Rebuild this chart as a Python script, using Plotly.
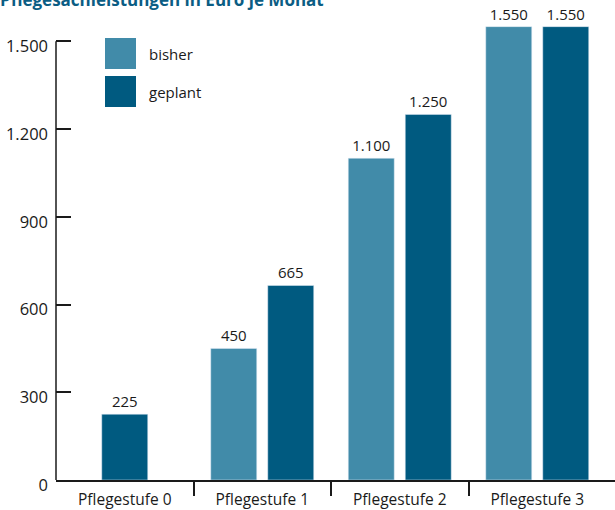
import plotly.graph_objects as go

categories = ["Pflegestufe 0", "Pflegestufe 1", "Pflegestufe 2", "Pflegestufe 3"]
bisher = [None, 450, 1100, 1550]
geplant = [225, 665, 1250, 1550]
series_names = ["bisher", "geplant"]
y_tickvals = [0, 300, 600, 900, 1200, 1500]
title_text = "Pflegesachleistungen in Euro je Monat"

C_BISHER = "#418ba9"
C_GEPLANT = "#005a80"
C_TITLE = "#0b5d84"
C_AXIS = "#1a1a1a"
FONT = "Open Sans"

W, H = 615, 510
ML, MR, MT, MB = 56, 0, 10, 30
PW, PH = W - ML - MR, H - MT - MB

def px_x(px):
    return (px - ML) / PW

def px_y(py):
    return (H - MB - py) / PH

xs = list(range(len(categories)))
bw = 0.3345
half_gap = 0.04
off_b = [-half_gap - bw] * len(xs)
off_g = [(-bw / 2) if b is None else half_gap for b in bisher]

fig = go.Figure()
fig.add_trace(go.Bar(
    x=xs, y=bisher, name=series_names[0], marker_color=C_BISHER,
    width=bw, offset=off_b, text=bisher, texttemplate="%{y:,}",
    textposition="outside", cliponaxis=False, hoverinfo="skip",
    textfont=dict(family=FONT, size=15, color="#1a1a1a"),
))
fig.add_trace(go.Bar(
    x=xs, y=geplant, name=series_names[1], marker_color=C_GEPLANT,
    width=bw, offset=off_g, text=geplant, texttemplate="%{y:,}",
    textposition="outside", cliponaxis=False, hoverinfo="skip",
    textfont=dict(family=FONT, size=15, color="#1a1a1a"),
))

# y axis line only up to the top tick
fig.add_shape(type="line", xref="paper", yref="y", x0=0, x1=0, y0=0, y1=y_tickvals[-1],
              line=dict(color=C_AXIS, width=1.5))

# manual legend
legend_rows = [(series_names[0], C_BISHER, 38), (series_names[1], C_GEPLANT, 76)]
for name, col, top in legend_rows:
    fig.add_shape(type="rect", xref="paper", yref="paper",
                  x0=px_x(105), x1=px_x(136), y0=px_y(top + 31), y1=px_y(top),
                  fillcolor=col, line=dict(width=0))
    fig.add_annotation(xref="paper", yref="paper", x=px_x(147), y=px_y(top + 15.5),
                       text=name, showarrow=False, xanchor="left", yanchor="middle",
                       font=dict(family=FONT, size=15, color="#1a1a1a"))

fig.update_layout(
    width=W, height=H,
    margin=dict(l=ML, r=MR, t=MT, b=MB, pad=0, autoexpand=False),
    plot_bgcolor="white", paper_bgcolor="white",
    barmode="overlay", showlegend=False, hovermode=False,
    separators=",.",
    font=dict(family=FONT, size=15, color="#1a1a1a"),
    title=dict(text="<b>" + title_text + "</b>", x=0, xref="container", xanchor="left",
               y=1.0, yref="container", yanchor="middle",
               font=dict(family=FONT, size=17, color=C_TITLE)),
    xaxis=dict(range=[-0.5, (W - ML - MR) / 137.5 - 0.5], tickvals=xs, ticktext=categories,
               ticks="", showgrid=False, zeroline=False, showline=True, automargin=False,
               linecolor=C_AXIS, linewidth=1.5, ticklabelstandoff=5,
               minor=dict(tickvals=[0.5, 1.5, 2.5], ticks="outside", ticklen=14,
                          tickwidth=1.5, tickcolor=C_AXIS, showgrid=False),
               tickfont=dict(family=FONT, size=15.5, color="#1a1a1a")),
    yaxis=dict(range=[0, PH / 0.2925], tickvals=y_tickvals, tickformat=",",
               ticks="inside", ticklen=15, tickwidth=1.5, tickcolor=C_AXIS,
               showgrid=False, zeroline=False, showline=False, automargin=False,
               ticklabelstandoff=7, ticklabelshift=5,
               tickfont=dict(family=FONT, size=16.5, color="#1a1a1a")),
)

fig.write_html("out.html", config={"displayModeBar": False},
               post_script="document.body.style.margin='0';document.body.style.overflow='hidden';")
